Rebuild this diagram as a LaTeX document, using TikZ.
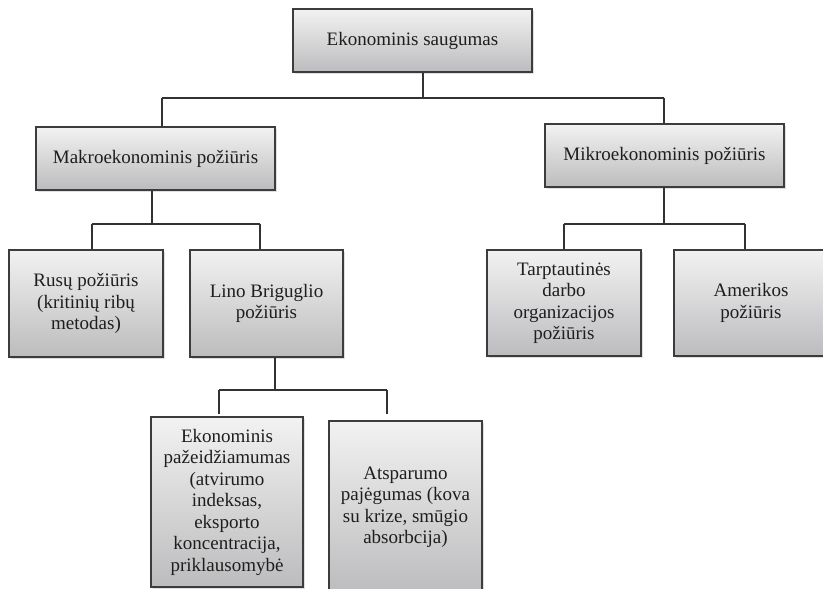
\documentclass[tikz,border=0pt]{standalone}
\usepackage{fontspec}
\setmainfont{Liberation Serif}
\usetikzlibrary{shadows}
\definecolor{boxtop}{RGB}{242,242,242}
\definecolor{boxbot}{RGB}{188,188,190}
\definecolor{boxline}{RGB}{60,60,60}
\definecolor{txt}{RGB}{30,30,30}
\definecolor{connc}{RGB}{50,50,50}
\tikzset{
  orgbox/.style={draw=boxline, line width=1.1pt, top color=boxtop, bottom color=boxbot,
    rectangle, inner sep=2pt, align=center, text=txt,
    font=\fontsize{19}{21.5}\selectfont,
    drop shadow={shadow xshift=1.5pt, shadow yshift=-2pt, opacity=0.25}},
  conn/.style={draw=connc, line width=1.2pt}
}
\begin{document}
\begin{tikzpicture}[x=1pt,y=1pt]
\clip (0,0) rectangle (823,-589);
\fill[white] (0,0) rectangle (823,-589);
% boxes
\node[orgbox, minimum width=239pt, minimum height=63pt] (top) at (412.5,-40.5) {Ekonominis saugumas};
\node[orgbox, minimum width=239pt, minimum height=63pt] (makro) at (155.5,-158.5) {Makroekonominis požiūris};
\node[orgbox, minimum width=239pt, minimum height=63pt] (mikro) at (664.5,-155.5) {Mikroekonominis požiūris};
\node[orgbox, minimum width=154pt, minimum height=107pt] (rusu) at (86,-303.5) {Rusų požiūris\\(kritinių ribų\\metodas)};
\node[orgbox, minimum width=153pt, minimum height=107pt] (lino) at (266.5,-303.5) {Lino Briguglio\\požiūris};
\node[orgbox, minimum width=154pt, minimum height=106pt] (tarp) at (564,-303) {Tarptautinės\\darbo\\organizacijos\\požiūris};
\node[orgbox, minimum width=154pt, minimum height=106pt] (amer) at (751,-303) {Amerikos\\požiūris};
\node[orgbox, minimum width=152pt, minimum height=170pt] (ekon) at (227,-502) {Ekonominis\\pažeidžiamumas\\(atvirumo\\indeksas,\\eksporto\\koncentracija,\\priklausomybė};
\node[orgbox, minimum width=153pt, minimum height=172pt] (atsp) at (405.5,-507) {Atsparumo\\pajėgumas (kova\\su krize, smūgio\\absorbcija)};
% junctions
\coordinate (jt) at (423,-98);
\coordinate (jtl) at (162,-98);
\coordinate (jtr) at (664,-98);
\coordinate (jm) at (152,-224);
\coordinate (jml) at (92,-224);
\coordinate (jmr) at (260,-224);
\coordinate (jk) at (664,-224);
\coordinate (jkl) at (564,-224);
\coordinate (jkr) at (745,-224);
\coordinate (jl) at (275,-390);
\coordinate (jll) at (219,-390);
\coordinate (jlr) at (387,-390);
\coordinate (ell) at (219,-414);
\coordinate (elr) at (387,-414);
% connectors
\draw[conn] (top.south -| jt) -- (jt);
\draw[conn] (jtl) -- (jtr);
\draw[conn] (jtl) -- (jtl |- makro.north);
\draw[conn] (jtr) -- (jtr |- mikro.north);
\draw[conn] (makro.south -| jm) -- (jm);
\draw[conn] (jml) -- (jmr);
\draw[conn] (jml) -- (jml |- rusu.north);
\draw[conn] (jmr) -- (jmr |- lino.north);
\draw[conn] (mikro.south -| jk) -- (jk);
\draw[conn] (jkl) -- (jkr);
\draw[conn] (jkl) -- (jkl |- tarp.north);
\draw[conn] (jkr) -- (jkr |- amer.north);
\draw[conn] (lino.south -| jl) -- (jl);
\draw[conn] (jll) -- (jlr);
\draw[conn] (jll) -- (ell);
\draw[conn] (jlr) -- (elr);
\end{tikzpicture}
\end{document}
